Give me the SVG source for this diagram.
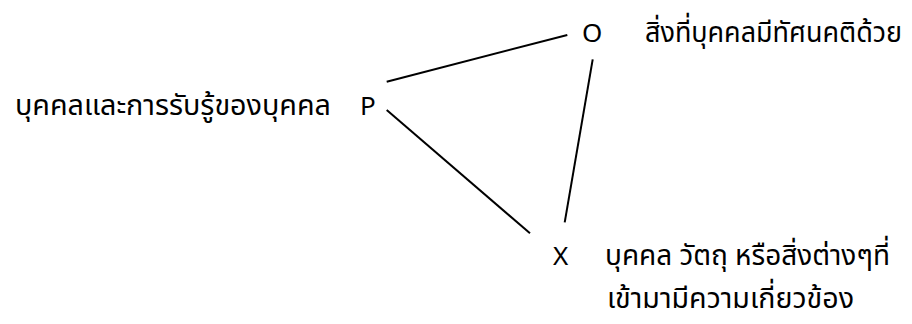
<svg xmlns="http://www.w3.org/2000/svg" width="912" height="324" viewBox="0 0 912 324">
<style>
.t{font-family:"Noto Sans Thai","Noto Sans","DejaVu Sans",sans-serif;font-size:29px;fill:#000}
.l{font-family:"Noto Sans","Liberation Sans",sans-serif;font-size:26px;fill:#000}
.c{stroke:#000;stroke-width:2;fill:none}
</style>
<rect width="912" height="324" fill="#fff"/>
<g id="connectors">
<line class="c" x1="386.7" y1="81.7" x2="567.3" y2="35"/>
<line class="c" x1="386.7" y1="110" x2="530" y2="233.3"/>
<line class="c" x1="592.7" y1="59.3" x2="564.7" y2="222.3"/>
</g>
<g id="P">
<text class="l" x="360" y="115">P</text>
<text class="t" x="15" y="115" textLength="316" lengthAdjust="spacingAndGlyphs">บุคคลและการรับรู้ของบุคคล</text>
</g>
<g id="O">
<text class="l" x="582" y="42">O</text>
<text class="t" x="645" y="42" textLength="257" lengthAdjust="spacingAndGlyphs">สิ่งที่บุคคลมีทัศนคติด้วย</text>
</g>
<g id="X">
<text class="l" x="553" y="265">X</text>
<text class="t" x="605" y="265" textLength="285" lengthAdjust="spacingAndGlyphs">บุคคล วัตถุ หรือสิ่งต่างๆที่</text>
<text class="t" x="607" y="308" textLength="247" lengthAdjust="spacingAndGlyphs">เข้ามามีความเกี่ยวข้อง</text>
</g>
</svg>
